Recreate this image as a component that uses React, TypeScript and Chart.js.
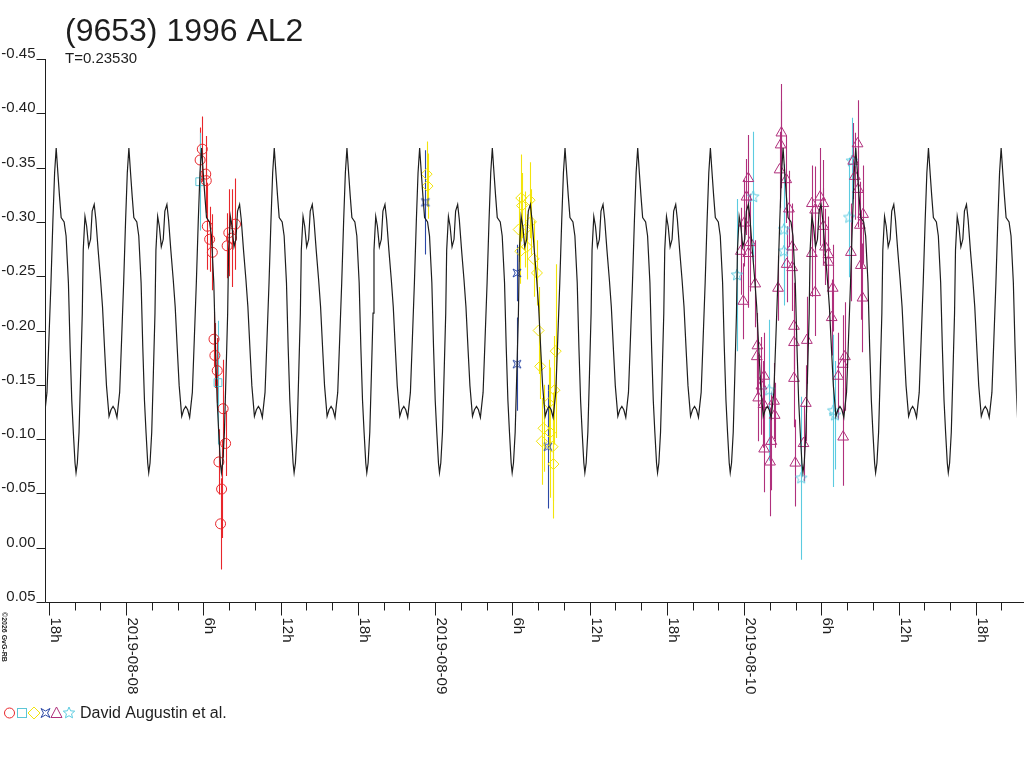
import { useEffect, useRef } from 'react';
import { Chart, registerables } from 'chart.js';

Chart.register(...registerables);

// x values are hours since 2019-08-08 00:00
const TITLE = '(9653) 1996 AL2';
const SUBTITLE = 'T=0.23530';
const LEGEND_TEXT = 'David Augustin et al.';
const COPYRIGHT = '©2026 GvG-RB';
const PERIOD_DAYS = 0.2353;
const FIRST_PEAK_HOUR = -5.44;
const X_MIN = -6.31;
const X_MAX = 69.19;

const yTicks = [-0.45, -0.4, -0.35, -0.3, -0.25, -0.2, -0.15, -0.1, -0.05, 0, 0.05];
const yTickLabels = ['-0.45', '-0.40', '-0.35', '-0.30', '-0.25', '-0.20', '-0.15', '-0.10', '-0.05', '0.00', '0.05'];

const xTickHours = [-6, -4, -2, 0, 2, 4, 6, 8, 10, 12, 14, 16, 18, 20, 22, 24, 26, 28, 30, 32, 34, 36, 38, 40, 42, 44, 46, 48, 50, 52, 54, 56, 58, 60, 62, 64, 66, 68];
const xTickLabels = ['18h', '', '', '2019-08-08', '', '', '6h', '', '', '12h', '', '', '18h', '', '', '2019-08-09', '', '', '6h', '', '', '12h', '', '', '18h', '', '', '2019-08-10', '', '', '6h', '', '', '12h', '', '', '18h', ''];

// one period of the model lightcurve (phase from the tall maximum)
const shapePhase = [0, 0.023, 0.045, 0.068, 0.109, 0.136, 0.168, 0.191, 0.214, 0.236, 0.259, 0.273, 0.291, 0.314, 0.337, 0.359, 0.372, 0.396, 0.419, 0.446, 0.473, 0.495, 0.523, 0.546, 0.577, 0.61, 0.637, 0.668, 0.692, 0.727, 0.754, 0.782, 0.809, 0.836, 0.873, 0.9, 0.928, 0.955, 0.978];
const shapeMag = [-0.368, -0.345, -0.324, -0.304, -0.3, -0.287, -0.244, -0.185, -0.136, -0.106, -0.078, -0.069, -0.078, -0.106, -0.161, -0.216, -0.274, -0.305, -0.296, -0.277, -0.284, -0.31, -0.316, -0.302, -0.274, -0.247, -0.222, -0.18, -0.149, -0.121, -0.127, -0.13, -0.127, -0.12, -0.143, -0.192, -0.244, -0.302, -0.345];

// observations
const redHours = [5.91, 5.74, 6.18, 6.22, 6.3, 6.48, 6.69, 8.49, 7.97, 7.84, 8.18, 6.82, 6.89, 7.07, 7.53, 7.72, 7.2, 7.41, 7.33];
const redMags = [-0.367, -0.357, -0.344, -0.338, -0.296, -0.284, -0.272, -0.298, -0.29, -0.278, -0.285, -0.192, -0.177, -0.163, -0.128, -0.096, -0.079, -0.054, -0.022];
const redErrs = [0.03, 0.03, 0.035, 0.03, 0.04, 0.03, 0.035, 0.042, 0.04, 0.03, 0.045, 0.025, 0.03, 0.03, 0.045, 0.03, 0.03, 0.045, 0.042];

const squareHours = [5.71, 7.13];
const squareMags = [-0.337, -0.152];
const squareErrs = [0.045, 0.057];

const yellowHours = [23.34, 23.41, 30.69, 31.34, 30.75, 31.44, 30.49, 31.0, 31.13, 30.62, 31.65, 31.91, 32.04, 33.37, 32.16, 33.27, 32.81, 32.42, 32.93, 32.29, 33.12, 33.19];
const yellowMags = [-0.344, -0.333, -0.322, -0.32, -0.315, -0.3, -0.293, -0.293, -0.277, -0.273, -0.266, -0.253, -0.2, -0.181, -0.167, -0.145, -0.133, -0.11, -0.106, -0.098, -0.093, -0.077];
const yellowErrs = [0.03, 0.03, 0.04, 0.035, 0.03, 0.03, 0.03, 0.035, 0.03, 0.03, 0.035, 0.03, 0.04, 0.08, 0.03, 0.05, 0.04, 0.04, 0.06, 0.04, 0.05, 0.05];

const blueHours = [23.24, 30.36, 30.36, 32.76];
const blueMags = [-0.318, -0.253, -0.169, -0.093];
const blueErrs = [0.048, 0.026, 0.043, 0.057];

const triHours = [48.33, 48.19, 50.9, 50.84, 50.76, 51.28, 51.49, 48.02, 48.48, 47.75, 48.33, 51.74, 51.31, 51.74, 48.87, 50.64, 47.94, 51.88, 51.88, 49.04, 48.99, 49.56, 49.35, 49.1, 50.33, 49.51, 50.38, 51.88, 50.12, 49.56, 50.02, 51.98, 56.82, 56.48, 56.61, 56.86, 53.91, 53.27, 54.16, 53.52, 57.25, 54.16, 57.0, 56.3, 53.27, 54.29, 54.55, 54.55, 57.07, 54.89, 53.52, 57.2, 54.81, 52.88, 55.84, 55.66, 55.32, 52.8, 52.62, 55.7];
const triMags = [-0.34, -0.323, -0.382, -0.371, -0.348, -0.339, -0.312, -0.299, -0.281, -0.273, -0.271, -0.277, -0.261, -0.258, -0.243, -0.239, -0.227, -0.204, -0.189, -0.186, -0.176, -0.158, -0.149, -0.138, -0.135, -0.132, -0.122, -0.156, -0.098, -0.091, -0.079, -0.078, -0.372, -0.356, -0.342, -0.33, -0.323, -0.317, -0.317, -0.311, -0.307, -0.296, -0.297, -0.272, -0.271, -0.277, -0.27, -0.263, -0.26, -0.239, -0.235, -0.23, -0.212, -0.191, -0.176, -0.169, -0.158, -0.133, -0.096, -0.102];
const triErrs = [0.04, 0.035, 0.045, 0.04, 0.035, 0.04, 0.035, 0.04, 0.045, 0.04, 0.05, 0.04, 0.035, 0.04, 0.04, 0.03, 0.035, 0.04, 0.035, 0.03, 0.035, 0.04, 0.045, 0.04, 0.035, 0.04, 0.03, 0.045, 0.045, 0.04, 0.05, 0.04, 0.04, 0.035, 0.04, 0.035, 0.045, 0.035, 0.04, 0.04, 0.045, 0.035, 0.04, 0.045, 0.04, 0.035, 0.035, 0.03, 0.05, 0.04, 0.04, 0.05, 0.035, 0.04, 0.05, 0.045, 0.04, 0.035, 0.035, 0.045];

const starHours = [48.71, 47.45, 51.1, 51.1, 49.95, 52.44, 54.93, 55.06, 56.17, 56.38];
const starMags = [-0.323, -0.251, -0.293, -0.273, -0.145, -0.064, -0.126, -0.122, -0.304, -0.356];
const starErrs = [0.06, 0.07, 0.06, 0.05, 0.065, 0.075, 0.07, 0.05, 0.055, 0.04];

const RED = '#e8262b';
const CYAN = '#5cc6d6';
const YELLOW = '#f2e40c';
const BLUE = '#2b48a6';
const MAGENTA = '#b0307c';
const STAR_CYAN = '#5ccbe0';
const INK = '#1e1e1e';
const FONT = '"Liberation Sans", Arial, sans-serif';

function hourglassPath(ctx: CanvasRenderingContext2D, cx: number, cy: number, r: number) {
  const k = r * 0.45;
  ctx.beginPath();
  ctx.moveTo(cx - r, cy - r);
  ctx.lineTo(cx, cy - k);
  ctx.lineTo(cx + r, cy - r);
  ctx.lineTo(cx + k, cy);
  ctx.lineTo(cx + r, cy + r);
  ctx.lineTo(cx, cy + k);
  ctx.lineTo(cx - r, cy + r);
  ctx.lineTo(cx - k, cy);
  ctx.closePath();
}

function starPath(ctx: CanvasRenderingContext2D, cx: number, cy: number, r: number) {
  ctx.beginPath();
  for (let i = 0; i < 10; i++) {
    const rr = i % 2 === 0 ? r : r * 0.45;
    const a = -Math.PI / 2 + (i * Math.PI) / 5;
    const px = cx + Math.cos(a) * rr;
    const py = cy + Math.sin(a) * rr;
    if (i === 0) ctx.moveTo(px, py);
    else ctx.lineTo(px, py);
  }
  ctx.closePath();
}

function makeMarker(kind: 'star' | 'hourglass', color: string, r: number) {
  const c = document.createElement('canvas');
  const size = Math.ceil(r * 2 + 4);
  c.width = size;
  c.height = size;
  const g = c.getContext('2d')!;
  g.strokeStyle = color;
  g.lineWidth = 1;
  if (kind === 'star') starPath(g, size / 2, size / 2, r);
  else hourglassPath(g, size / 2, size / 2, r);
  g.stroke();
  return c;
}

function pts(hours: number[], mags: number[]) {
  return hours.map((h, i) => ({ x: h, y: mags[i] }));
}

const errorBarPlugin = {
  id: 'errorBars',
  beforeDatasetsDraw(chart: any) {
    const { ctx, chartArea: a, scales } = chart;
    ctx.save();
    ctx.beginPath();
    ctx.rect(a.left, a.top, a.right - a.left, a.bottom - a.top);
    ctx.clip();
    chart.data.datasets.forEach((ds: any) => {
      if (!ds.errs) return;
      ctx.strokeStyle = ds.pointBorderColor;
      ctx.lineWidth = 1.1;
      ds.data.forEach((p: any, i: number) => {
        const x = Math.round(scales.x.getPixelForValue(p.x)) + 0.5;
        ctx.beginPath();
        ctx.moveTo(x, scales.y.getPixelForValue(p.y - ds.errs[i]));
        ctx.lineTo(x, scales.y.getPixelForValue(p.y + ds.errs[i]));
        ctx.stroke();
      });
    });
    ctx.restore();
  },
};

const decorPlugin = {
  id: 'decor',
  afterDraw(chart: any) {
    const { ctx, chartArea: a, scales } = chart;
    const xs = scales.x;
    const ys = scales.y;
    ctx.save();
    ctx.strokeStyle = INK;
    ctx.fillStyle = INK;
    ctx.lineWidth = 1;

    // axes
    const left = Math.round(a.left) + 0.5;
    const bottom = Math.round(a.bottom) + 0.5;
    ctx.beginPath();
    ctx.moveTo(left, a.top);
    ctx.lineTo(left, bottom);
    ctx.lineTo(chart.width, bottom);
    ctx.stroke();

    // y ticks
    ctx.font = `15px ${FONT}`;
    ctx.textAlign = 'right';
    ctx.textBaseline = 'alphabetic';
    yTicks.forEach((v, i) => {
      const y = Math.round(ys.getPixelForValue(v)) + 0.5;
      ctx.beginPath();
      ctx.moveTo(left - 9, y);
      ctx.lineTo(left, y);
      ctx.stroke();
      ctx.fillText(yTickLabels[i], left - 10, y - 2);
    });

    // x ticks
    ctx.textAlign = 'left';
    xTickHours.forEach((h, i) => {
      const x = Math.round(xs.getPixelForValue(h)) + 0.5;
      const label = xTickLabels[i];
      ctx.beginPath();
      ctx.moveTo(x, bottom);
      ctx.lineTo(x, bottom + (label ? 13 : 8));
      ctx.stroke();
      if (label) {
        ctx.save();
        ctx.translate(x + 1, bottom + 15);
        ctx.rotate(Math.PI / 2);
        ctx.fillText(label, 0, 0);
        ctx.restore();
      }
    });

    // copyright
    ctx.save();
    ctx.font = `bold 7px ${FONT}`;
    ctx.translate(2, 612);
    ctx.rotate(Math.PI / 2);
    ctx.fillText(COPYRIGHT, 0, 0);
    ctx.restore();

    // title
    ctx.font = `32px ${FONT}`;
    ctx.fillText(TITLE, 65, 41);
    ctx.font = `15px ${FONT}`;
    ctx.fillText(SUBTITLE, 65, 63);

    // legend
    const ly = 713;
    ctx.lineWidth = 1;
    ctx.strokeStyle = RED;
    ctx.beginPath();
    ctx.arc(9.5, ly, 5, 0, Math.PI * 2);
    ctx.stroke();
    ctx.strokeStyle = CYAN;
    ctx.strokeRect(17.5, ly - 4.5, 9, 9);
    ctx.strokeStyle = YELLOW;
    ctx.beginPath();
    ctx.moveTo(28, ly);
    ctx.lineTo(34, ly - 6);
    ctx.lineTo(40, ly);
    ctx.lineTo(34, ly + 6);
    ctx.closePath();
    ctx.stroke();
    ctx.strokeStyle = BLUE;
    hourglassPath(ctx, 45.5, ly, 4.5);
    ctx.stroke();
    ctx.strokeStyle = MAGENTA;
    ctx.beginPath();
    ctx.moveTo(56.5, ly - 6);
    ctx.lineTo(62, ly + 4.5);
    ctx.lineTo(51, ly + 4.5);
    ctx.closePath();
    ctx.stroke();
    ctx.strokeStyle = STAR_CYAN;
    starPath(ctx, 69, ly, 6);
    ctx.stroke();
    ctx.fillStyle = INK;
    ctx.font = `16px ${FONT}`;
    ctx.fillText(LEGEND_TEXT, 80, 718);
    ctx.restore();
  },
};

const App = () => {
  const chartRef = useRef<HTMLCanvasElement>(null);
  const chartInstance = useRef<Chart | null>(null);

  useEffect(() => {
    document.body.style.margin = '0';
    if (!chartRef.current) return;
    if (chartInstance.current) chartInstance.current.destroy();
    const ctx = chartRef.current.getContext('2d');
    if (!ctx) return;

    // tile the model period across the time range
    const periodHours = PERIOD_DAYS * 24;
    const curve: { x: number; y: number }[] = [];
    for (let k = -1; k < 15; k++) {
      shapePhase.forEach((ph, i) => {
        const h = FIRST_PEAK_HOUR + (k + ph) * periodHours;
        if (h > X_MIN - 3 && h < X_MAX + 3) curve.push({ x: h, y: shapeMag[i] });
      });
    }

    const scatter = (data: any, color: string, style: any, radius: number, errs: number[]) => ({
      data,
      errs,
      showLine: false,
      pointStyle: style,
      pointRadius: radius,
      pointBorderColor: color,
      pointBackgroundColor: 'rgba(0,0,0,0)',
      pointBorderWidth: 1,
    });

    chartInstance.current = new Chart(ctx, {
      type: 'scatter',
      data: {
        datasets: [
          {
            data: curve,
            showLine: true,
            borderColor: INK,
            borderWidth: 1.2,
            pointRadius: 0,
            tension: 0,
          } as any,
          scatter(pts(redHours, redMags), RED, 'circle', 5, redErrs),
          scatter(pts(squareHours, squareMags), CYAN, 'rect', 5.5, squareErrs),
          scatter(pts(yellowHours, yellowMags), YELLOW, 'rectRot', 5.5, yellowErrs),
          scatter(pts(blueHours, blueMags), BLUE, makeMarker('hourglass', BLUE, 4), 4, blueErrs),
          scatter(pts(triHours, triMags), MAGENTA, 'triangle', 6.2, triErrs),
          scatter(pts(starHours, starMags), STAR_CYAN, makeMarker('star', STAR_CYAN, 6), 5, starErrs),
        ],
      },
      options: {
        responsive: false,
        animation: false,
        layout: { padding: { left: 45, top: 59, right: 1, bottom: 166 } },
        plugins: {
          legend: { display: false },
          tooltip: { enabled: false },
        },
        scales: {
          x: { type: 'linear', min: X_MIN, max: X_MAX, display: false },
          y: { type: 'linear', min: -0.45, max: 0.05, reverse: true, display: false },
        },
      },
      plugins: [errorBarPlugin, decorPlugin],
    });

    return () => {
      if (chartInstance.current) {
        chartInstance.current.destroy();
        chartInstance.current = null;
      }
    };
  }, []);

  return (
    <div style={{ position: 'absolute', left: 0, top: 0, width: 1024, height: 768, background: '#fff' }}>
      <canvas ref={chartRef} width={1024} height={768} />
    </div>
  );
};

export default App;
